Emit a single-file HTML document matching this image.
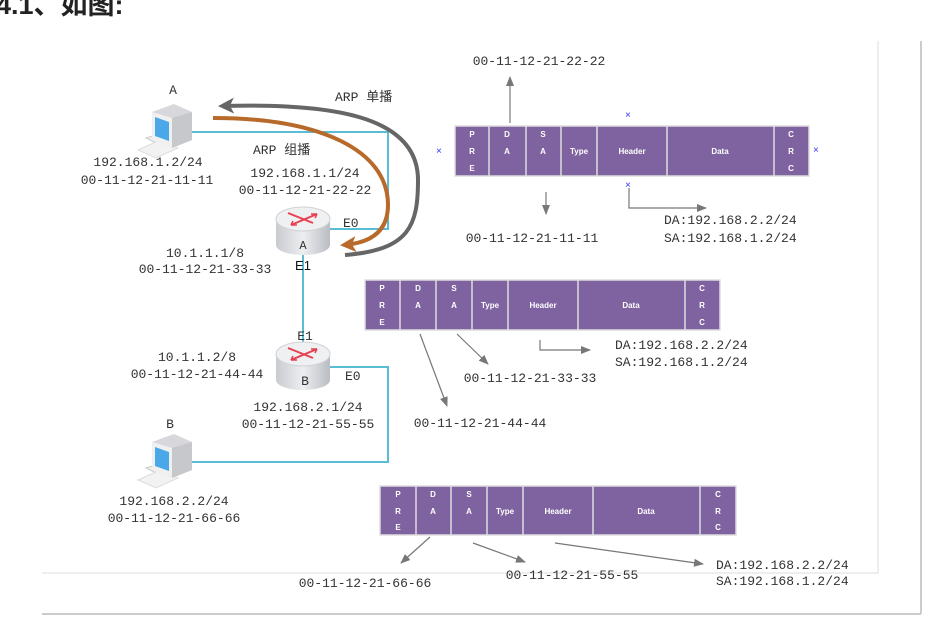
<!DOCTYPE html>
<html><head><meta charset="utf-8"><style>
body{margin:0;width:928px;height:628px;background:#fff;overflow:hidden}
svg{display:block}
text{font-family:"Liberation Mono","Noto Sans CJK SC",monospace;fill:#333;font-size:13px}
.c{font-family:"Liberation Sans",sans-serif;font-size:8px;font-weight:bold;fill:#fff;text-anchor:middle}
.x{fill:#33f;font-size:10px;font-family:"Liberation Sans",sans-serif}
</style></head><body>
<svg width="928" height="628" viewBox="0 0 928 628">
<defs>
<marker id="ag" markerWidth="10" markerHeight="8" refX="9" refY="4" orient="auto" markerUnits="userSpaceOnUse"><path d="M0,0L10,4L0,8z" fill="#777"/></marker>
<marker id="big" markerWidth="18" markerHeight="16" refX="12" refY="8" orient="auto" markerUnits="userSpaceOnUse"><path d="M0,0L16,8L0,16L4,8z" fill="#666"/></marker>
<marker id="bro" markerWidth="18" markerHeight="16" refX="12" refY="8" orient="auto" markerUnits="userSpaceOnUse"><path d="M0,0L16,8L0,16L4,8z" fill="#b86a2a"/></marker>
<linearGradient id="rg" x1="0" x2="1"><stop offset="0" stop-color="#c9cbd0"/><stop offset=".5" stop-color="#eceef0"/><stop offset="1" stop-color="#b9bcc2"/></linearGradient>
<g id="router"><path d="M-27,0 L-27,26 A27,10 0 0 0 27,26 L27,0z" fill="url(#rg)"/><ellipse cx="0" cy="0" rx="27" ry="12" fill="#eef0f2" stroke="#d0d2d6"/><path d="M-15,-6 L10,4 M-12,6 L14,-5" stroke="#e84050" stroke-width="2"/><path d="M14,-5 l-6,0 M14,-5 l-2,4 M-12,6 l6,0 M-12,6 l2,-4" stroke="#e84050" stroke-width="1.5"/></g>
<g id="pc"><path d="M-4,30 L16,24 L32,30 L12,38z" fill="#eee" stroke="#ccc"/><path d="M-12,42 L10,32 L28,40 L6,50z" fill="#f2f2f2" stroke="#ddd"/><path d="M2,4 L24,-4 L42,4 L42,32 L22,40 L2,32z" fill="#d8d8dc"/><path d="M2,4 L22,10 L22,40 L2,32z" fill="#f0f0f0"/><path d="M5,9 L19,14 L19,33 L5,28z" fill="#4aa8e8"/><path d="M22,10 L42,4 L42,32 L22,40z" fill="#c6c8cc"/></g>
</defs>
<text x="-4" y="14" style="font-family:'Liberation Sans','Noto Sans CJK SC',sans-serif;font-size:27px;font-weight:bold;fill:#222">4.1、如图:</text>
<line x1="878" y1="41" x2="878" y2="573" stroke="#ddd"/>
<line x1="42" y1="573" x2="878" y2="573" stroke="#ddd"/>
<line x1="921" y1="41" x2="921" y2="614" stroke="#ccc" stroke-width="2"/>
<line x1="42" y1="614" x2="921" y2="614" stroke="#ccc" stroke-width="2"/>
<g fill="none" stroke="#5bbcd6" stroke-width="2">
<path d="M190,132 H388 V229 H330"/>
<path d="M303,254 V343"/>
<path d="M330,367 H388 V462 H190"/>
</g>
<use href="#pc" x="150" y="108"/>
<use href="#pc" x="150" y="438"/>
<use href="#router" x="303" y="219"/>
<use href="#router" x="303" y="354"/>
<path d="M345,255 C410,250 418,225 418,180 C418,115 330,103 222,106" fill="none" stroke="#666" stroke-width="4" marker-end="url(#big)"/>
<path d="M213,118 C320,118 388,150 388,205 C388,232 370,243 344,245" fill="none" stroke="#b86a2a" stroke-width="4" marker-end="url(#bro)"/>
<text x="173" y="94" text-anchor="middle">A</text>
<text x="148" y="166" text-anchor="middle">192.168.1.2/24</text>
<text x="147" y="184" text-anchor="middle">00-11-12-21-11-11</text>
<text x="335" y="101">ARP 单播</text>
<text x="253" y="154">ARP 组播</text>
<text x="305" y="177" text-anchor="middle">192.168.1.1/24</text>
<text x="305" y="194" text-anchor="middle">00-11-12-21-22-22</text>
<text x="343" y="227">E0</text>
<text x="303" y="249" text-anchor="middle" style="font-size:12px">A</text>
<text x="303" y="270" text-anchor="middle" style="font-family:'Liberation Sans',sans-serif;fill:#111">E1</text>
<text x="205" y="257" text-anchor="middle">10.1.1.1/8</text>
<text x="205" y="273" text-anchor="middle">00-11-12-21-33-33</text>
<text x="305" y="340" text-anchor="middle">E1</text>
<text x="197" y="361" text-anchor="middle">10.1.1.2/8</text>
<text x="197" y="378" text-anchor="middle">00-11-12-21-44-44</text>
<text x="305" y="385" text-anchor="middle">B</text>
<text x="345" y="380">E0</text>
<text x="308" y="411" text-anchor="middle">192.168.2.1/24</text>
<text x="308" y="428" text-anchor="middle">00-11-12-21-55-55</text>
<text x="170" y="428" text-anchor="middle">B</text>
<text x="174" y="505" text-anchor="middle">192.168.2.2/24</text>
<text x="174" y="522" text-anchor="middle">00-11-12-21-66-66</text>
<g stroke="#ddd" stroke-width="1.5">
<rect x="455" y="126" width="354" height="50" fill="#7f63a0"/>
<path d="M489,126V176M526,126V176M561,126V176M597,126V176M667,126V176M774,126V176"/>
<rect x="365" y="280" width="355" height="50" fill="#7f63a0"/>
<path d="M400,280V330M436,280V330M472,280V330M508,280V330M578,280V330M685,280V330"/>
<rect x="380" y="486" width="356" height="49" fill="#7f63a0"/>
<path d="M416,486V535M451,486V535M487,486V535M523,486V535M593,486V535M700,486V535"/>
</g>
<g class="c">
<text class="c" x="472" y="137">P</text><text class="c" x="472" y="154">R</text><text class="c" x="472" y="171">E</text>
<text class="c" x="507" y="137">D</text><text class="c" x="507" y="154">A</text>
<text class="c" x="543" y="137">S</text><text class="c" x="543" y="154">A</text>
<text class="c" x="579" y="154">Type</text><text class="c" x="632" y="154">Header</text><text class="c" x="720" y="154">Data</text>
<text class="c" x="791" y="137">C</text><text class="c" x="791" y="154">R</text><text class="c" x="791" y="171">C</text>
<text class="c" x="382" y="291">P</text><text class="c" x="382" y="308">R</text><text class="c" x="382" y="325">E</text>
<text class="c" x="418" y="291">D</text><text class="c" x="418" y="308">A</text>
<text class="c" x="454" y="291">S</text><text class="c" x="454" y="308">A</text>
<text class="c" x="490" y="308">Type</text><text class="c" x="543" y="308">Header</text><text class="c" x="631" y="308">Data</text>
<text class="c" x="702" y="291">C</text><text class="c" x="702" y="308">R</text><text class="c" x="702" y="325">C</text>
<text class="c" x="398" y="497">P</text><text class="c" x="398" y="514">R</text><text class="c" x="398" y="530">E</text>
<text class="c" x="433" y="497">D</text><text class="c" x="433" y="514">A</text>
<text class="c" x="469" y="497">S</text><text class="c" x="469" y="514">A</text>
<text class="c" x="505" y="514">Type</text><text class="c" x="558" y="514">Header</text><text class="c" x="646" y="514">Data</text>
<text class="c" x="718" y="497">C</text><text class="c" x="718" y="514">R</text><text class="c" x="718" y="530">C</text>
</g>
<text class="x" x="436" y="154">×</text><text class="x" x="813" y="153">×</text><text class="x" x="625" y="118">×</text><text class="x" x="625" y="188">×</text>
<g stroke="#777" stroke-width="1.2" fill="none" marker-end="url(#ag)">
<path d="M510,123V77"/>
<path d="M546,192V214"/>
<path d="M629,188V208H706"/>
<path d="M420,334L447,406"/>
<path d="M457,334L488,364"/>
<path d="M540,340V350H590"/>
<path d="M430,537L401,563"/>
<path d="M473,543L525,562"/>
<path d="M555,543L703,564"/>
</g>
<text x="539" y="65" text-anchor="middle">00-11-12-21-22-22</text>
<text x="532" y="242" text-anchor="middle">00-11-12-21-11-11</text>
<text x="664" y="224">DA:192.168.2.2/24</text>
<text x="664" y="242">SA:192.168.1.2/24</text>
<text x="615" y="349">DA:192.168.2.2/24</text>
<text x="615" y="366">SA:192.168.1.2/24</text>
<text x="530" y="382" text-anchor="middle">00-11-12-21-33-33</text>
<text x="480" y="427" text-anchor="middle">00-11-12-21-44-44</text>
<text x="365" y="587" text-anchor="middle">00-11-12-21-66-66</text>
<text x="572" y="579" text-anchor="middle">00-11-12-21-55-55</text>
<text x="716" y="569">DA:192.168.2.2/24</text>
<text x="716" y="585">SA:192.168.1.2/24</text>
</svg>
</body></html>
